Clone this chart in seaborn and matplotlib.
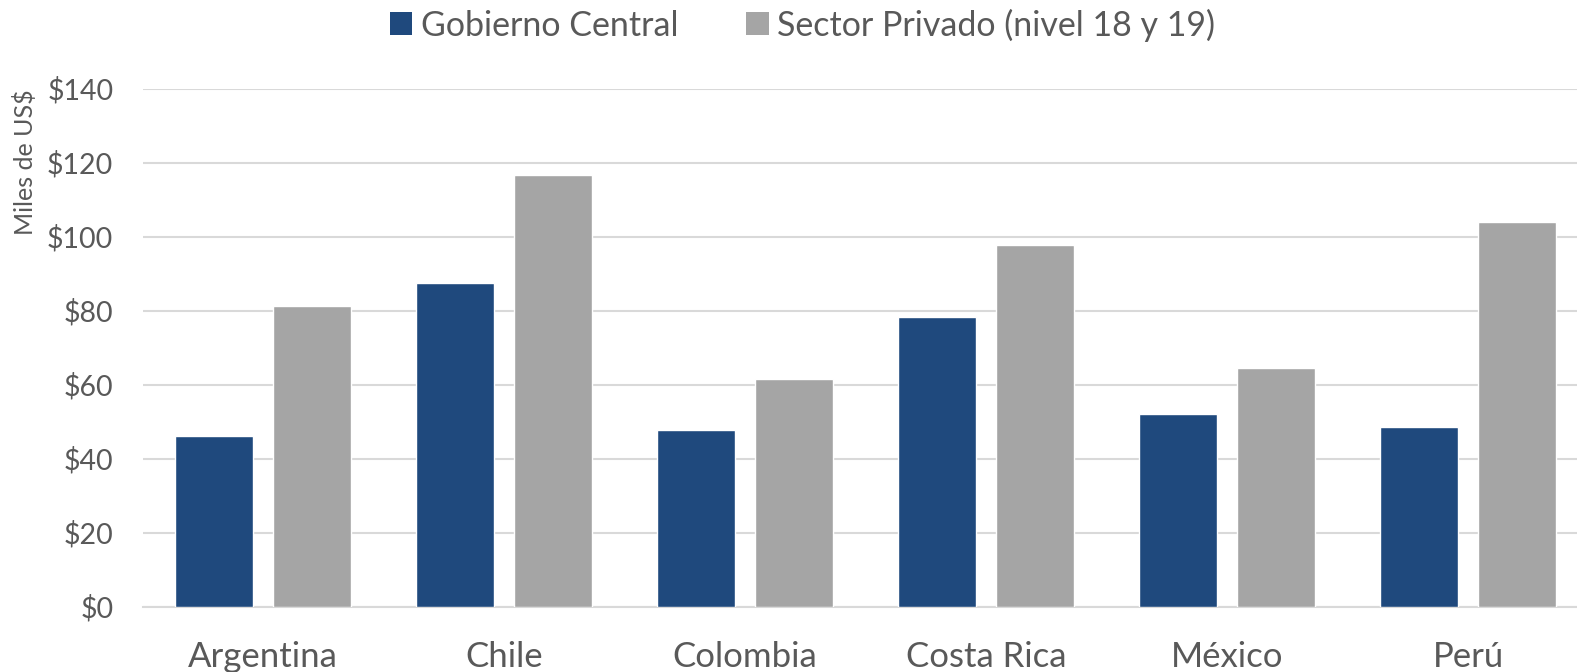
import matplotlib
matplotlib.use("Agg")
import matplotlib.pyplot as plt
import seaborn as sns
import pandas as pd
from matplotlib.ticker import FuncFormatter
from matplotlib.patches import Patch

paises = ["Argentina", "Chile", "Colombia", "Costa Rica", "México", "Perú"]
gobierno_central = [46.2, 87.3, 47.8, 78.3, 51.9, 48.4]
sector_privado = [81.3, 116.6, 61.4, 97.6, 64.4, 103.8]
series = ["Gobierno Central", "Sector Privado (nivel 18 y 19)"]
colores = ["#1F497D", "#A5A5A5"]

df = pd.DataFrame({
    "pais": paises * 2,
    "valor": gobierno_central + sector_privado,
    "serie": [series[0]] * len(paises) + [series[1]] * len(paises),
})

sns.set_theme(style="white")
plt.rcParams["font.family"] = ["Lato", "DejaVu Sans"]
txt = "#595959"

W, H = 1577, 672
left, right, top, bottom = 142.5, 1588.5, 88.5, 606.5
fig = plt.figure(figsize=(W / 100, H / 100), dpi=100)
ax = fig.add_axes([left / W, 1 - bottom / H, (right - left) / W, (bottom - top) / H])

sns.barplot(data=df, x="pais", y="valor", hue="serie", hue_order=series,
            palette=colores, width=0.818, gap=0.205, saturation=1,
            legend=False, ax=ax, zorder=3)

ax.set_ylim(0, 140)
ax.set_xlim(-0.5, 5.5)
ax.set_yticks(range(0, 141, 20))
ax.yaxis.set_major_formatter(FuncFormatter(lambda v, p: f"${int(v)}"))
ax.grid(axis="y", color="#D9D9D9", linewidth=1.5, zorder=0)
for s in ["top", "right", "left"]:
    ax.spines[s].set_visible(False)
ax.spines["bottom"].set_color("#D9D9D9")
ax.spines["bottom"].set_linewidth(1.5)
ax.tick_params(axis="y", length=0, labelsize=20.5, labelcolor=txt, pad=21)
ax.tick_params(axis="x", length=0, labelsize=25, labelcolor=txt, pad=25)
ax.set_xlabel("")
ax.set_ylabel("Miles de US$", fontsize=18, color=txt)
ax.yaxis.set_label_coords(-0.0728, 0.858)

handles = [Patch(facecolor=c, edgecolor="none") for c in colores]
fig.legend(handles, series, loc="center", bbox_to_anchor=(0.509, 1 - 25 / H),
           ncol=2, frameon=False, fontsize=24.5, labelcolor=txt,
           handlelength=0.65, handleheight=0.65, handletextpad=0.26,
           columnspacing=2.0)

fig.savefig("out.png", dpi=100)
